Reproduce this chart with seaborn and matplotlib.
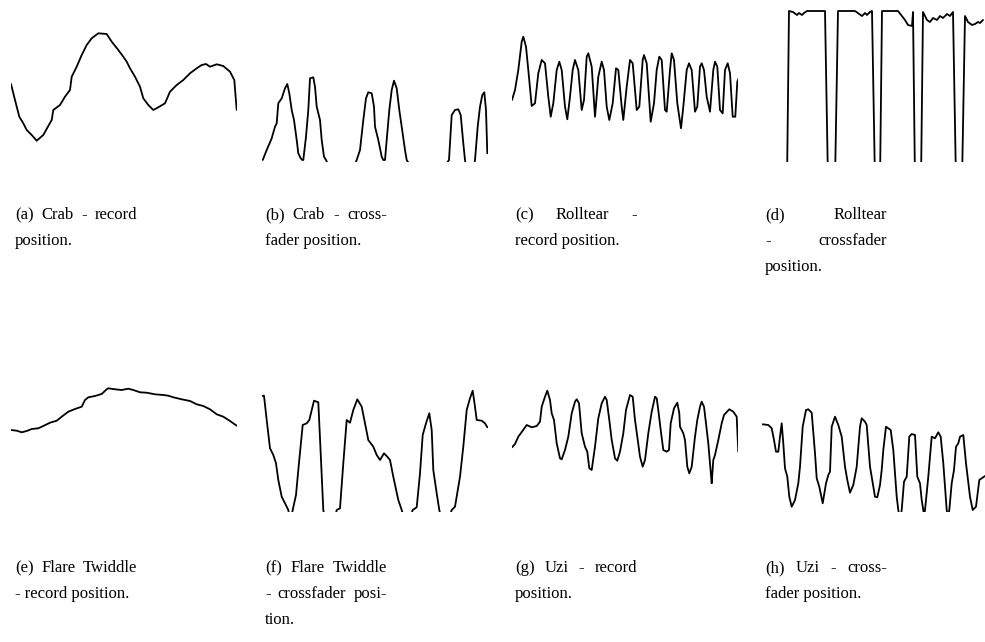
import matplotlib
matplotlib.use("Agg")
import matplotlib.pyplot as plt
import seaborn as sns

# traces: t = time (arbitrary units), pos = position (arbitrary units)
crab_record_t = [0, 4, 8.3, 12.3, 15.7, 20.7, 25.7, 32.3, 37.3, 40.7, 42.3, 49, 54, 59, 60.7, 65.7, 70.7, 75.7,
                 80.7, 87.3, 95.7, 100.7, 107.3, 112.3, 115.7, 119, 124, 129, 132.3, 137.3, 142.3, 147.3, 154, 159,
                 165.7, 172.3, 179, 185.7, 190.7, 195, 199, 205.7, 212.3, 219, 223.3, 225.7]
crab_record_pos = [78, 62, 45.3, 38.7, 32, 27, 21.3, 27, 36, 42, 52, 57, 65.3, 72, 85.3, 95.3, 107, 117, 123.7,
                   128.7, 128, 120.3, 112, 105.3, 100.3, 93.7, 85.3, 75.3, 63.7, 57, 52, 54.7, 58.7, 70.3, 77, 82,
                   88.7, 93.7, 97, 98, 95.3, 97.7, 96, 90.3, 82, 52]

crab_fader_t = [0.7, 4.7, 9.7, 13, 14.7, 16.3, 19.7, 23, 25.3, 27.3, 29.7, 32, 34.7, 36.3, 38.7, 40.3, 41.3, 44,
                46.3, 48, 51.3, 53, 54.7, 58, 59.7, 62, 64, 79.7, 94.7, 98, 101.3, 104, 106.3, 109.7, 112, 113,
                116.3, 119.7, 121.3, 123, 124.7, 127.3, 129.7, 132, 134.7, 137.3, 139.7, 143, 144.7, 164.7, 187,
                189.7, 193, 196.3, 198.7, 201.3, 203, 208, 213, 215.7, 218, 220.3, 222.3, 224, 225.3]
crab_fader_pos = [2, 12, 23.7, 35.3, 38.7, 58.7, 63.7, 73.7, 78, 68.7, 52, 42, 22, 8.7, 3.7, 2, 2, 25.3, 52, 83.7,
                  84.7, 75.3, 55.3, 42, 22, 5.3, 2, -30, 2, 12, 42, 63.7, 69.7, 68.7, 55.3, 35.3, 22, 5.3, 2, 2,
                  22, 52, 72, 81.3, 73.7, 52, 35.3, 12, 2, -30, 2, 47, 52, 52.7, 47, 18.7, 2, -30, 2, 35.3, 55.3,
                  67, 69.7, 52, 8.7]

roll_record_t = [0, 3, 6.3, 9.7, 11.3, 14, 16.3, 19.7, 23, 26.3, 29.7, 33, 36.3, 38.7, 41.3, 44.7, 47.3, 49.7, 53,
                 55.3, 58, 60.7, 63, 66.3, 69.7, 72, 74.7, 76.3, 79.7, 83, 86.3, 89.7, 92, 94.7, 97.3, 100.7, 104,
                 106.3, 109.7, 111.3, 114.7, 118, 120.7, 124.7, 127.3, 130.7, 132, 134.7, 138.7, 142, 144.7, 147.3,
                 149.7, 153, 154.7, 158, 159.7, 162, 165.3, 169, 171.3, 174.7, 177, 179.7, 183, 185.3, 188, 189.7,
                 192, 194.7, 198, 201.3, 203, 205.3, 208, 210.7, 213, 215.7, 218, 220.7, 223.3, 225.3, 226.7]
roll_record_pos = [62, 72, 92, 120.3, 125.3, 115.3, 92, 56, 58.7, 88.7, 102, 98.7, 65.3, 45.3, 58.7, 92, 100.3, 92,
                   55.3, 42.7, 65.3, 92, 102, 92, 52, 62, 105.3, 108.7, 95.3, 45.3, 85.3, 100.3, 92, 55.3, 42, 58.7,
                   93.7, 92, 55.3, 42, 75.3, 102, 98.7, 52, 55.3, 102, 107, 98.7, 40.3, 58.7, 92, 105.3, 102, 52,
                   50.3, 92, 108.7, 102, 58.7, 33.7, 55.3, 92, 98.7, 92, 50.3, 55.3, 95.3, 98.7, 92, 65.3, 50.3, 92,
                   100.3, 95.3, 52, 48.7, 92, 98.7, 88.7, 45.3, 45.3, 80.3, 83.7]

roll_fader_t = [25, 27, 31, 35, 37, 40, 42, 45, 63, 66, 73, 76, 93, 100, 103, 105, 108, 110, 113, 118, 120, 136,
                143, 146, 150, 151, 153, 159, 161, 165, 168, 171, 175, 178, 181, 185, 188, 191, 194, 200, 203, 206,
                210, 213, 216, 218, 221]
roll_fader_pos = [-20, 151, 150, 147, 149, 147, 149, 151, 151, -20, -20, 151, 151, 146, 149, 147, 150, 151, -20,
                  -20, 151, 151, 142, 137, 136, 150, -20, -20, 150, 142, 140, 144, 142, 146, 144, 148, 146, 150,
                  -20, -20, 146, 140, 137, 138, 140, 139, 142]

flare_record_t = [0, 5.7, 10.7, 15.7, 20.7, 27.3, 32.3, 39, 45.7, 50.7, 57.3, 64, 70.7, 74, 77.3, 84, 90.7, 95.7,
                  97.3, 104, 110.7, 117.3, 122.3, 129, 135.7, 144, 152.3, 157.3, 162.3, 170.7, 179, 185.7, 192.3,
                  199, 205.7, 212.3, 219, 225.7]
flare_record_pos = [82, 81.3, 79.7, 81, 83, 83.7, 86, 89.3, 91.3, 95.3, 100.3, 103, 105.3, 112, 114.7, 116, 118,
                    122.7, 123.7, 122.7, 122, 123.3, 122, 119.7, 119.3, 117.7, 117, 116.3, 114.7, 112.7, 111, 107.7,
                    106, 102.7, 97.7, 95.3, 91, 86.3]

flare_fader_t = [0, 2, 4.7, 8, 11.3, 14, 16.3, 19.7, 23, 26.3, 28.3, 30.7, 34, 36.3, 40.7, 44.7, 47.3, 52, 56.3,
                 58.7, 61.3, 68, 74.7, 78, 81.3, 84.7, 88, 91.3, 95.3, 99.7, 103, 106.3, 111.3, 114.7, 118, 122,
                 125.3, 128, 131.3, 136.3, 139.7, 144.7, 150.7, 154.7, 158, 160.7, 164, 167.3, 169.7, 171.3, 174.7,
                 177.3, 183, 189.7, 193, 198, 201.3, 204.7, 208, 210.7, 213, 214.7, 219.7, 223, 225.3]
flare_fader_pos = [116, 116.3, 92, 63.7, 57, 48.7, 32, 15.3, 8.7, 2, -10, 2, 17, 42, 87, 88.7, 92, 111.3, 109.7,
                   58.7, 2, -30, 2, 3.7, 48.7, 92, 89.3, 102, 112.7, 105.3, 88.7, 72, 65.3, 57, 52, 58.7, 55.3, 52,
                   35.3, 12, 2, -15, 2, 4.7, 38.7, 77, 88.7, 98.7, 82, 42, 18.7, 2, -20, 2, 5.3, 35.3, 65.3, 102,
                   113.7, 121.3, 105.3, 92, 91.3, 88.7, 84.7]

uzi_record_t = [0, 3, 6.3, 10.7, 14.7, 19.7, 24.7, 28, 29.7, 33, 35.3, 38, 39.7, 42, 44.7, 48, 49.7, 53, 56.3, 59.7,
                63, 64.7, 67, 69.7, 73, 75.3, 77.3, 79.7, 83, 86.3, 89.7, 93, 94.7, 97.3, 99.7, 103, 105.3, 108,
                111.3, 114, 118, 120.7, 123, 125.3, 128, 130.7, 133, 136.3, 139.7, 143, 144.7, 146.3, 148.7, 151.3,
                154.7, 157, 158.7, 162, 165.3, 167.3, 168, 171.3, 173, 175.3, 177.3, 179.7, 183, 185.3, 188, 189.7,
                192, 194, 196.3, 198.7, 199.7, 201.3, 203, 206.3, 209.7, 212, 217.3, 221.3, 224.7, 226.3]
uzi_record_pos = [64.7, 68, 75.3, 81.3, 87, 84.7, 86, 90.3, 105.3, 115.3, 121.3, 112, 98.7, 92, 68.7, 53.7, 52.7, 62,
                  75.3, 98.7, 110.3, 112.7, 108.7, 78.7, 65.3, 60.3, 43.7, 42, 65.3, 93.7, 108.7, 115.3, 112, 92,
                  72, 53.7, 51.3, 60.3, 78.7, 102, 117, 115.3, 92, 75.3, 55.3, 45.3, 52, 78.7, 100.3, 115.3, 113.7,
                  102, 82, 62, 60.3, 62, 88.7, 103.7, 109.3, 98.7, 85.3, 78.7, 72, 45.3, 38.7, 45.3, 75.3, 92, 105.3,
                  110.3, 105.3, 88.7, 68.7, 40.3, 28.7, 52, 57, 72, 88.7, 97, 102.7, 100.3, 95.3, 60.3]

uzi_fader_t = [0.7, 6.3, 9.7, 12, 14, 16.3, 18, 19.7, 21.3, 23, 25.3, 27.3, 29.7, 33, 36.3, 38, 40.7, 44, 46.3, 49.7,
               53, 54.7, 57.3, 60.7, 64, 66.3, 68, 69.7, 73, 76.3, 79.7, 83, 85.3, 88, 91.3, 94.7, 98, 99.7, 103,
               104.7, 108, 113, 115.3, 118, 119.7, 121.3, 124, 126.3, 128.7, 131.3, 134.7, 136.3, 138, 139.7, 142,
               144.7, 147.3, 149.7, 153, 155.3, 158, 159.7, 161.3, 162, 163, 166.3, 169.7, 173, 176.3, 178.7, 181.3,
               184.7, 186, 187.3, 189.7, 192, 194, 196.3, 198, 201.3, 204, 208, 210.7, 214, 217.3, 219.7, 223]
uzi_fader_pos = [87.7, 87, 83.7, 72, 60.3, 60.3, 75.3, 88.7, 68.7, 43.7, 35.3, 15.3, 5.3, 12, 28.7, 45.3, 85.3, 102,
                 102.7, 99.3, 58.7, 33.7, 25.3, 8.7, 28.7, 37, 40.3, 85.3, 95.3, 87, 75.3, 45.3, 32, 19.3, 27, 45.3,
                 85.3, 93.7, 90.3, 87, 45.3, 15.3, 14.7, 27, 42, 62, 85.3, 83.7, 82, 62, 15.3, 2, -8, 2, 30.3, 35.3,
                 75.3, 78, 77, 35.3, 28.7, 12, 2, -5, 2, 35.3, 75.3, 73.7, 79.7, 75.3, 48.7, 2, -5, 2, 28.7, 42,
                 65.3, 68.7, 75.3, 77, 48.7, 15.3, 2, 5.3, 32, 33.7, 36]

captions = [
    ["(a) Crab - record", "position."],
    ["(b) Crab - cross-", "fader position."],
    ["(c) Rolltear -", "record position."],
    ["(d) Rolltear", "- crossfader", "position."],
    ["(e) Flare Twiddle", "- record position."],
    ["(f) Flare Twiddle", "- crossfader posi-", "tion."],
    ["(g) Uzi - record", "position."],
    ["(h) Uzi - cross-", "fader position."],
]

panels = [
    (crab_record_t, crab_record_pos), (crab_fader_t, crab_fader_pos),
    (roll_record_t, roll_record_pos), (roll_fader_t, roll_fader_pos),
    (flare_record_t, flare_record_pos), (flare_fader_t, flare_fader_pos),
    (uzi_record_t, uzi_record_pos), (uzi_fader_t, uzi_fader_pos),
]

sns.set_theme(style="white")
plt.rcParams["font.family"] = ["Liberation Serif", "DejaVu Serif"]

W, H = 985, 642
fig = plt.figure(figsize=(W / 100, H / 100), dpi=100)
fig.patch.set_facecolor("white")

col_left = [11, 262, 512, 762]
row_top = [8, 382]
row_h = [154, 130]
panel_w = 226

for i, (t, pos) in enumerate(panels):
    r, c = divmod(i, 4)
    rect = [col_left[c] / W, 1 - (row_top[r] + row_h[r]) / H, panel_w / W, row_h[r] / H]
    ax = fig.add_axes(rect)
    sns.lineplot(x=t, y=pos, ax=ax, color="black", lw=1.3, sort=False, estimator=None)
    ax.set_xlim(0, panel_w)
    ax.set_ylim(0, row_h[r])
    ax.axis("off")

# justified captions under each panel
renderer = fig.canvas.get_renderer()
fs = 12
text_w = 122
baselines = [219, 572]
step = 26

for i, lines in enumerate(captions):
    r, c = divmod(i, 4)
    x0 = 15 + 250 * c
    for k, line in enumerate(lines):
        y = 1 - (baselines[r] + k * step) / H
        words = line.split(" ")
        if k == len(lines) - 1 or len(words) == 1:
            fig.text(x0 / W, y, line, fontsize=fs, va="baseline", color="black")
            continue
        items = [fig.text(0, y, w, fontsize=fs, va="baseline", color="black") for w in words]
        widths = [it.get_window_extent(renderer).width for it in items]
        gap = (text_w - sum(widths)) / (len(words) - 1)
        x = x0
        for it, wd in zip(items, widths):
            it.set_x(x / W)
            x += wd + gap

fig.savefig("out.png", dpi=100, facecolor="white")
